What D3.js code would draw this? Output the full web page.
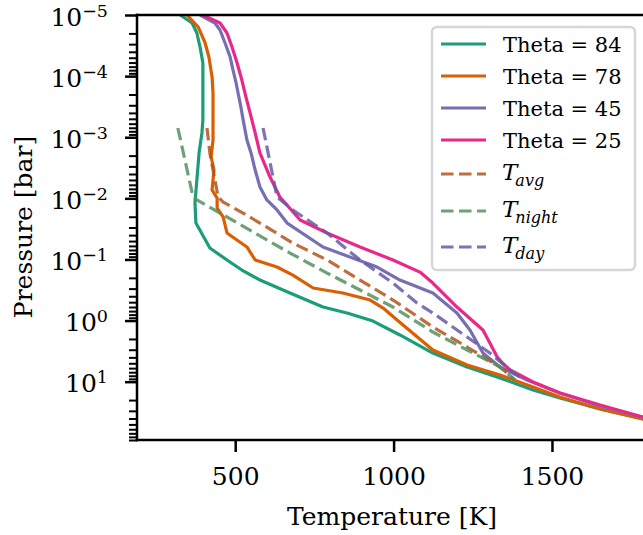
<!DOCTYPE html>
<html>
<head>
<meta charset="utf-8">
<script src="https://d3js.org/d3.v7.min.js"></script>
<style>
  body { margin: 0; background: #fff; }
  text { font-family: "DejaVu Serif", serif; fill: #000; }
</style>
</head>
<body>
<script>
// temperature [K] and pressure [bar]
const theta84T = [326, 364, 379, 389, 398, 398, 398, 395, 386, 379, 373, 376, 420, 474, 521, 578, 673, 777, 853, 935, 1020, 1124, 1232, 1336, 1440, 1525, 1652, 1787, 1800];
const theta84P = [1e-5, 1.35e-5, 1.97e-5, 3.34e-5, 6.1e-5, 1.69e-4, 5.2e-4, 8.5e-4, 1.8e-3, 5.0e-3, 1.19e-2, 2.54e-2, 6.5e-2, 0.102, 0.149, 0.217, 0.354, 0.60, 0.75, 1.02, 1.72, 3.4, 5.75, 8.7, 13.7, 18.5, 28, 40.8, 42.5];

const theta78T = [348, 383, 405, 417, 427, 430, 430, 430, 430, 424, 433, 427, 443, 443, 462, 474, 537, 563, 632, 682, 746, 840, 926, 967, 1011, 1124, 1232, 1336, 1440, 1525, 1652, 1787, 1800];
const theta78P = [1e-5, 1.57e-5, 2.87e-5, 4.87e-5, 1.03e-4, 1.89e-4, 3.6e-4, 8.5e-4, 1.11e-3, 2.1e-3, 3.44e-3, 7.3e-3, 9.9e-3, 1.44e-2, 2.02e-2, 3.69e-2, 6.25e-2, 0.102, 0.133, 0.18, 0.293, 0.354, 0.461, 0.624, 0.98, 3.03, 5.33, 7.78, 12.2, 17.8, 28, 40.8, 42.5];

const theta45T = [389, 436, 452, 468, 484, 493, 503, 509, 518, 525, 537, 550, 563, 578, 600, 632, 664, 777, 862, 948, 1020, 1124, 1200, 1241, 1282, 1336, 1421, 1525, 1652, 1787, 1800];
const theta45P = [1e-5, 1.35e-5, 1.76e-5, 2.87e-5, 4.87e-5, 7.9e-5, 1.3e-4, 1.89e-4, 3.2e-4, 5.2e-4, 1.11e-3, 1.81e-3, 3.44e-3, 6.5e-3, 1.06e-2, 1.55e-2, 2.54e-2, 6.25e-2, 9.1e-2, 0.133, 0.217, 0.354, 0.75, 1.43, 3.4, 5.75, 9.4, 15.3, 25, 38, 39.5];

const theta25T = [398, 452, 474, 490, 506, 521, 534, 547, 563, 578, 610, 641, 705, 790, 894, 998, 1083, 1124, 1200, 1282, 1304, 1327, 1346, 1368, 1440, 1525, 1652, 1787, 1800];
const theta25P = [1e-5, 1.35e-5, 1.97e-5, 3.34e-5, 6.1e-5, 1.16e-4, 2.2e-4, 4.0e-4, 8.5e-4, 1.81e-3, 4.48e-3, 9.5e-3, 2.26e-2, 3.69e-2, 6.25e-2, 0.102, 0.161, 0.243, 0.60, 1.43, 2.33, 3.95, 5.1, 6.44, 10.1, 15.3, 24.1, 37.9, 39.4];

const tavgT = [411, 420, 436, 446, 462, 525, 578, 682, 790, 894, 998, 1124, 1232, 1336, 1383];
const tavgP = [7.06e-4, 1.81e-3, 5.0e-3, 9.5e-3, 1.15e-2, 1.74e-2, 2.54e-2, 5.38e-2, 0.102, 0.217, 0.461, 1.27, 2.71, 5.75, 9.4];

const tnightT = [319, 367, 379, 474, 578, 673, 790, 894, 998, 1124, 1232, 1336, 1383];
const tnightP = [7.06e-4, 9.5e-3, 1.06e-2, 2.02e-2, 4.13e-2, 7.85e-2, 0.167, 0.316, 0.60, 1.54, 3.03, 5.75, 9.4];

const tdayT = [588, 632, 682, 790, 894, 998, 1074, 1124, 1232, 1304, 1368, 1399];
const tdayP = [7.06e-4, 9.5e-3, 1.55e-2, 3.69e-2, 0.102, 0.243, 0.516, 0.752, 1.86, 3.4, 6.44, 8.39];

const xTicks = [500, 1000, 1500];
const yTicks = [1e-5, 1e-4, 1e-3, 1e-2, 1e-1, 1e0, 1e1];
const yTickExp = ["\u22125", "\u22124", "\u22123", "\u22122", "\u22121", "0", "1"];

const series = [
  { name: "Theta = 84", T: theta84T, P: theta84P, color: "#1b9e77", dashed: false },
  { name: "Theta = 78", T: theta78T, P: theta78P, color: "#d95f02", dashed: false },
  { name: "Theta = 45", T: theta45T, P: theta45P, color: "#7570b3", dashed: false },
  { name: "Theta = 25", T: theta25T, P: theta25P, color: "#e7298a", dashed: false },
  { name: "T", sub: "avg", T: tavgT, P: tavgP, color: "#b3551a", dashed: true },
  { name: "T", sub: "night", T: tnightT, P: tnightP, color: "#559060", dashed: true },
  { name: "T", sub: "day", T: tdayT, P: tdayP, color: "#665ba7", dashed: true }
];

let width = 643, height = 535;
let m = { left: 137, right: 647, top: 15, bottom: 440 };

let svg = d3.select("body").append("svg")
  .attr("width", width)
  .attr("height", height);

let x = d3.scaleLinear().domain([190, 1800]).range([m.left, m.right]);
let y = d3.scaleLog().domain([1e-5, 90]).range([m.top, m.bottom]);

svg.append("clipPath").attr("id", "plot")
  .append("rect").attr("x", m.left).attr("y", m.top)
  .attr("width", m.right - m.left).attr("height", m.bottom - m.top);

let line = d3.line()
  .x(d => x(d[0]))
  .y(d => y(d[1]));

svg.append("g").attr("clip-path", "url(#plot)")
  .selectAll("path")
  .data(series)
  .join("path")
    .attr("d", s => line(s.T.map((t, i) => [t, s.P[i]])))
    .attr("fill", "none")
    .attr("stroke", s => s.color)
    .attr("stroke-width", 3.2)
    .attr("stroke-opacity", s => s.dashed ? 0.85 : 1)
    .attr("stroke-dasharray", s => s.dashed ? "12.5,5.5" : null)
    .attr("stroke-linejoin", "round");

// x axis
let xAxis = svg.append("g")
  .attr("transform", `translate(0,${m.bottom})`)
  .call(d3.axisBottom(x).tickValues(xTicks).tickSize(12).tickSizeOuter(0).tickFormat(d3.format("d")));
xAxis.select(".domain").remove();
xAxis.selectAll(".tick line").attr("stroke", "#000").attr("stroke-width", 2.5);
xAxis.selectAll(".tick text")
  .attr("font-family", "DejaVu Serif").attr("font-size", 25)
  .attr("y", 45).attr("dy", null);

// y axis, major ticks
let yAxis = svg.append("g")
  .attr("transform", `translate(${m.left},0)`)
  .call(d3.axisLeft(y).tickValues(yTicks).tickSize(12).tickSizeOuter(0).tickFormat(() => ""));
yAxis.select(".domain").remove();
yAxis.selectAll(".tick line").attr("stroke", "#000").attr("stroke-width", 2.5);
yAxis.selectAll(".tick text").remove();
yAxis.selectAll(".tick").each(function (d, i) {
  let t = d3.select(this).append("text")
    .attr("x", -29).attr("y", 10)
    .attr("text-anchor", "end")
    .attr("font-family", "DejaVu Serif");
  t.append("tspan").attr("font-size", 25).text("10");
  t.append("tspan").attr("font-size", 17.5).attr("dy", -9).text(yTickExp[i]);
});

// y axis, minor ticks
let minors = [];
for (let e = -5; e <= 1; e++) {
  for (let k = 2; k <= 9; k++) {
    let v = k * Math.pow(10, e);
    if (v <= 90) minors.push(v);
  }
}
let yMinor = svg.append("g")
  .attr("transform", `translate(${m.left},0)`)
  .call(d3.axisLeft(y).tickValues(minors).tickSize(8).tickSizeOuter(0).tickFormat(() => ""));
yMinor.select(".domain").remove();
yMinor.selectAll(".tick line").attr("stroke", "#000").attr("stroke-width", 2);

// spines
svg.append("g").selectAll("line")
  .data([[m.left, m.top, m.right, m.top], [m.left, m.bottom, m.right, m.bottom], [m.left, m.top, m.left, m.bottom]])
  .join("line")
    .attr("x1", d => d[0]).attr("y1", d => d[1])
    .attr("x2", d => d[2]).attr("y2", d => d[3])
    .attr("stroke", "#000").attr("stroke-width", 2.5)
    .attr("stroke-linecap", "square");

// axis labels
svg.append("text")
  .attr("x", 392).attr("y", 525)
  .attr("text-anchor", "middle").attr("font-size", 25)
  .text("Temperature [K]");
svg.append("text")
  .attr("transform", "translate(32,227) rotate(-90)")
  .attr("text-anchor", "middle").attr("font-size", 25)
  .text("Pressure [bar]");

// legend
let legend = svg.append("g");
legend.append("rect")
  .attr("x", 432).attr("y", 27).attr("width", 203).attr("height", 243)
  .attr("rx", 5)
  .attr("fill", "#fff").attr("fill-opacity", 0.8)
  .attr("stroke", "#d6d6d6").attr("stroke-width", 2.5);

let rowY = [44, 76, 108, 140, 174, 211, 247];
let rows = legend.selectAll("g.row")
  .data(series)
  .join("g")
    .attr("class", "row")
    .attr("transform", (d, i) => `translate(0,${rowY[i]})`);
rows.append("line")
  .attr("x1", 441).attr("x2", 486)
  .attr("stroke", d => d.color)
  .attr("stroke-width", 3.2)
  .attr("stroke-opacity", d => d.dashed ? 0.85 : 1)
  .attr("stroke-dasharray", d => d.dashed ? "12.5,5.5" : null);
rows.filter(d => !d.dashed).append("text")
  .attr("x", 503).attr("y", 7.5)
  .attr("font-size", 21)
  .text(d => d.name);
let mt = rows.filter(d => d.dashed).append("text")
  .attr("x", 502).attr("y", 6)
  .attr("font-family", "DejaVu Sans")
  .attr("font-style", "italic");
mt.append("tspan").attr("font-size", 23).text(d => d.name);
mt.append("tspan").attr("font-size", 16).attr("dx", -2).attr("dy", 6).text(d => d.sub);
</script>
</body>
</html>
